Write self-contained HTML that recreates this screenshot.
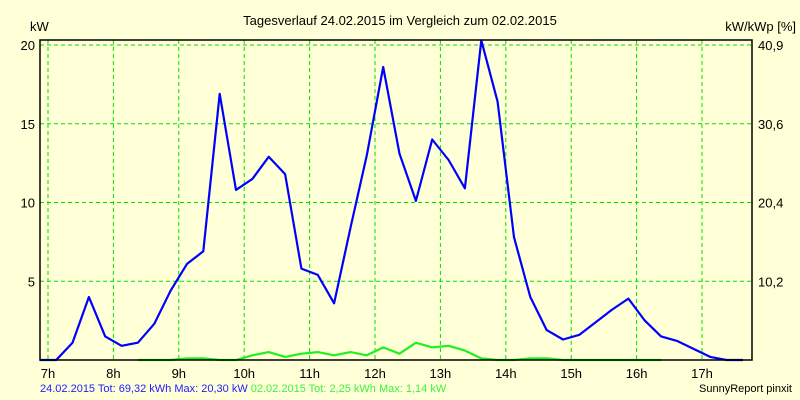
<!DOCTYPE html>
<html><head><meta charset="utf-8"><style>
body{margin:0;background:#ffffd8;}
svg{display:block;font-family:"Liberation Sans",sans-serif;}
</style></head><body>
<svg id="c" width="800" height="400">
<rect x="0" y="0" width="800" height="400" fill="#ffffd8"/>
<text x="400" y="25" font-size="13" text-anchor="middle">Tagesverlauf 24.02.2015 im Vergleich zum 02.02.2015</text>
<text x="30" y="31" font-size="13">kW</text>
<text x="796" y="31" font-size="13" text-anchor="end">kW/kWp [%]</text>
<g id="grid"></g>
<g id="series"></g>
<rect x="40" y="40" width="712" height="320" fill="none" stroke="#000" stroke-width="1.5"/>
<g id="ticks"></g>
<text x="40" y="392" font-size="11" fill="#2020ff">24.02.2015 Tot: 69,32 kWh Max: 20,30 kW <tspan fill="#40f040">02.02.2015 Tot: 2,25 kWh Max: 1,14 kW</tspan></text>
<text x="792" y="392" font-size="11" text-anchor="end">SunnyReport pinxit</text>
</svg>
<script>
const hourTicks=["7h","8h","9h","10h","11h","12h","13h","14h","15h","16h","17h"];
const hourValues=[7,8,9,10,11,12,13,14,15,16,17];
const leftTicks=[5,10,15,20];
const rightTickLabels=["10,2","20,4","30,6","40,9"];
const startHour=6.875;
const stepHour=0.25;
const blueValues=[0,0,1.1,4.0,1.5,0.9,1.1,2.3,4.4,6.1,6.9,16.9,10.8,11.5,12.9,11.8,5.8,5.4,3.6,8.4,13.0,18.6,13.1,10.1,14.0,12.7,10.9,20.3,16.4,7.8,4.0,1.9,1.3,1.6,2.4,3.2,3.9,2.5,1.5,1.2,0.7,0.2,0,0];
const greenStart=8.375;
const greenValues=[0,0,0,0.1,0.1,0,0,0.3,0.5,0.2,0.4,0.5,0.3,0.5,0.3,0.8,0.4,1.1,0.8,0.9,0.6,0.1,0,0,0.1,0.1,0,0,0,0,0,0,0];
const X=t=>48+(t-7)*65.4;
const Y=v=>360-v*15.75;
const NS="http://www.w3.org/2000/svg";
const grid=document.getElementById('grid'),ticks=document.getElementById('ticks'),ser=document.getElementById('series');
function mk(tag,attrs,parent){const e=document.createElementNS(NS,tag);for(const k in attrs)e.setAttribute(k,attrs[k]);parent.appendChild(e);return e;}
hourValues.forEach((h,i)=>{
  const l=mk('line',{x1:X(h),x2:X(h),y1:40,y2:360,stroke:'#00e000','stroke-dasharray':'4,3'},grid);
  
  
  const t=mk('text',{x:X(h),y:378,'font-size':13,'text-anchor':'middle'},ticks);
  t.textContent=hourTicks[i];
  
  
});
leftTicks.forEach((v,i)=>{
  const l=mk('line',{x1:40,x2:752,y1:Y(v),y2:Y(v),stroke:'#00e000','stroke-dasharray':'4,3'},grid);
  
  
  const t=mk('text',{x:35,y:Y(v)+5,'font-size':13,'text-anchor':'end'},ticks);
  t.textContent=v;
  
  
  const r=mk('text',{x:758,y:Y(v)+5,'font-size':13},ticks);
  r.textContent=rightTickLabels[i];
  
  
});
function line(vals,start,color,name){
  const pts=vals.map((v,i)=>X(start+i*stepHour).toFixed(1)+','+Y(v).toFixed(1)).join(' ');
  const p=mk('polyline',{points:pts,fill:'none',stroke:color,'stroke-width':2.2,'stroke-linejoin':'round'},ser);
  
  
}
line(greenValues,greenStart,'#20f020','series-2015-02-02');
line(blueValues,startHour,'#0000ff','series-2015-02-24');
</script>
</body></html>
